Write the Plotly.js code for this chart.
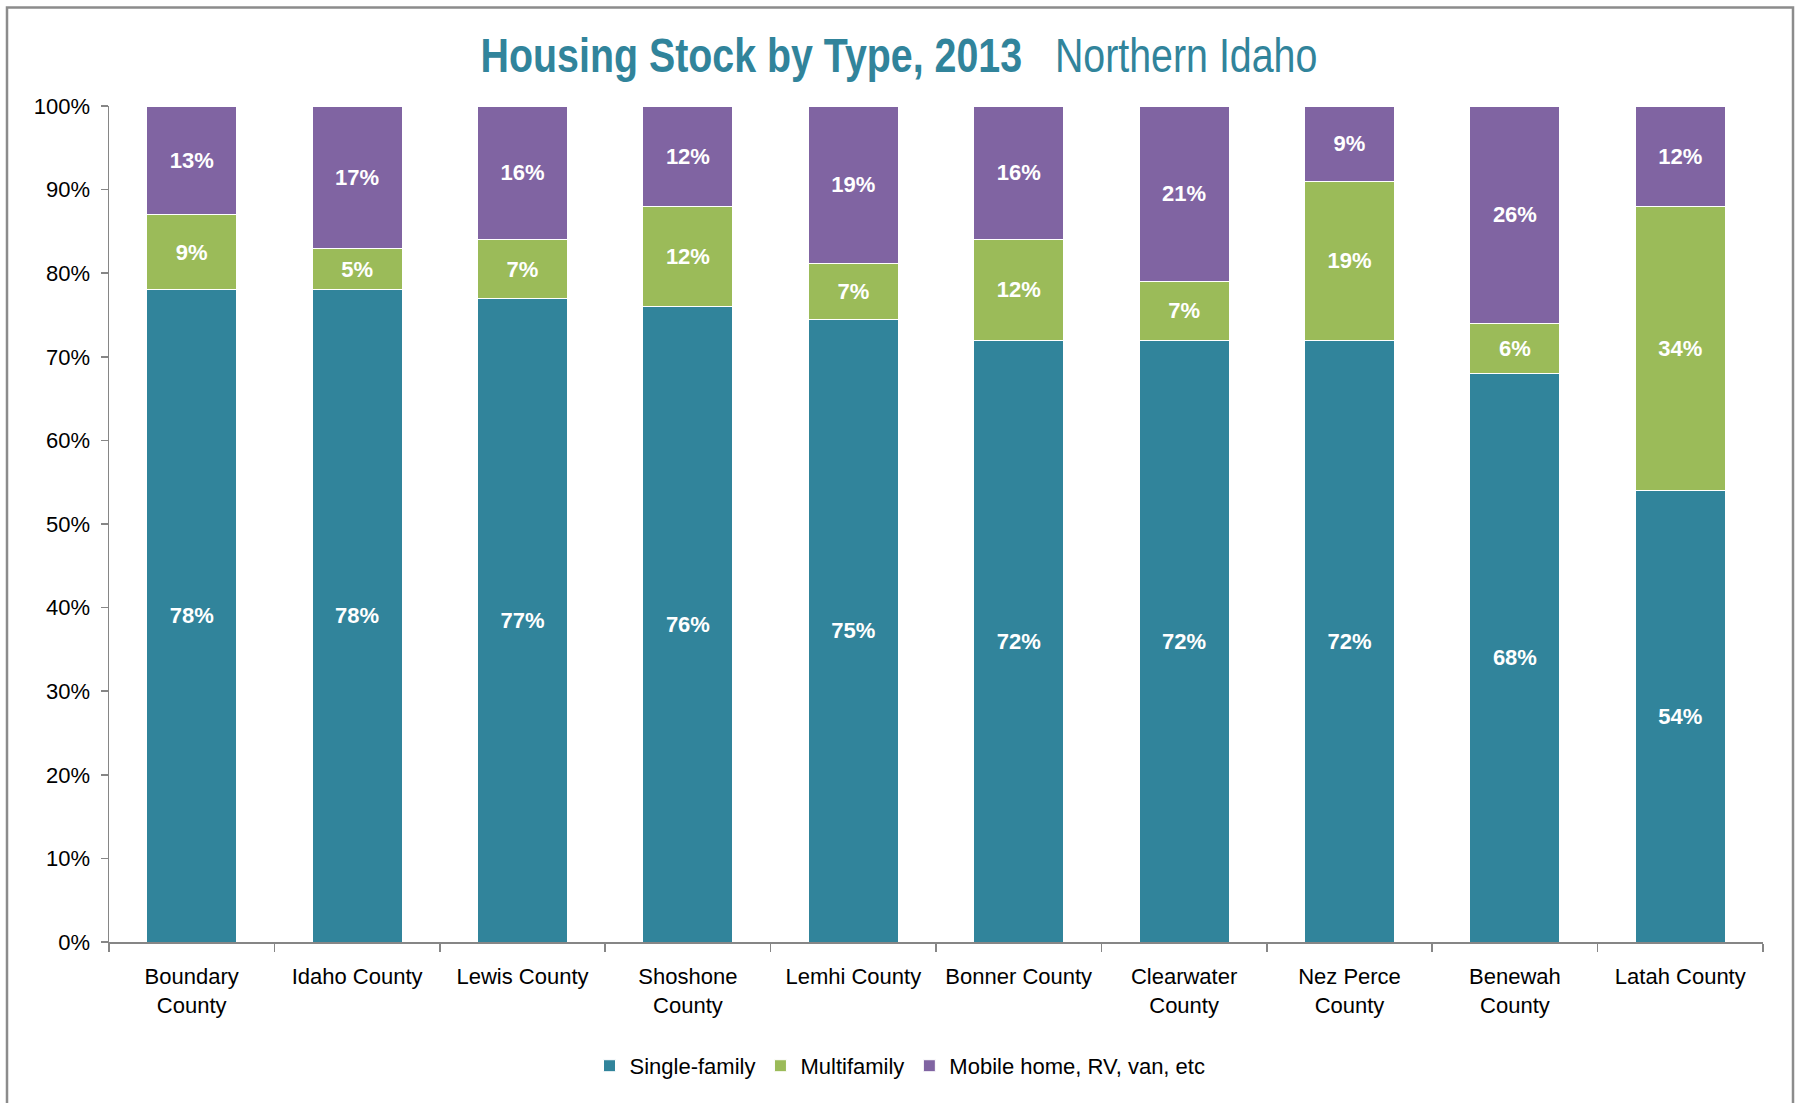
<!DOCTYPE html>
<html>
<head>
<meta charset="utf-8">
<script src="https://cdn.plot.ly/plotly-3.0.1.min.js"></script>
<style>
  html, body { margin: 0; padding: 0; background: #fff; }
  #chart { width: 1798px; height: 1103px; }
</style>
</head>
<body>
<div id="chart"></div>
<script>
// ---- Data ----
const categories = [
  "Boundary<br>County", "Idaho County", "Lewis County", "Shoshone<br>County",
  "Lemhi County", "Bonner County", "Clearwater<br>County", "Nez Perce<br>County",
  "Benewah<br>County", "Latah County"
];
const singleFamily = [78, 78, 77, 76, 74.5, 72, 72, 72, 68, 54];
const multifamily  = [9, 5, 7, 12, 6.7, 12, 7, 19, 6, 34];
const mobileHome   = [13, 17, 16, 12, 18.8, 16, 21, 9, 26, 12];
const seriesNames  = ["Single-family", "Multifamily", "Mobile home, RV, van, etc"];
const yTickVals    = [0, 10, 20, 30, 40, 50, 60, 70, 80, 90, 100];
const yTickText    = yTickVals.map(v => v + "%");

// ---- Styling ----
const colors = ["#31849B", "#9BBB59", "#8064A2"];
const baseFont = "'Liberation Sans', Arial, sans-serif";
const narrowFont = "'Liberation Sans Narrow', 'Arial Narrow', 'Liberation Sans', Arial, sans-serif";

function barTrace(values, name, color) {
  return {
    type: "bar",
    x: categories,
    y: values,
    name: name,
    marker: { color: color, line: { color: "#ffffff", width: 1 } },
    texttemplate: "%{y:.0f}%",
    textposition: "inside",
    insidetextanchor: "middle",
    textangle: 0,
    constraintext: "none",
    textfont: { family: baseFont, size: 22, color: "#ffffff", weight: "bold" },
    hoverinfo: "skip"
  };
}

const data = [
  barTrace(singleFamily, seriesNames[0], colors[0]),
  barTrace(multifamily, seriesNames[1], colors[1]),
  barTrace(mobileHome, seriesNames[2], colors[2])
];

const L = 109, R = 35, T = 105.5, B = 161;
const W = 1798, H = 1103;
const pw = W - L - R, ph = H - T - B;
function px(x) { return (x - L) / pw; }
function py(y) { return (H - B - y) / ph; }

const layout = {
  width: W,
  height: H,
  margin: { l: L, r: R, t: T, b: B, pad: 0 },
  paper_bgcolor: "#ffffff",
  plot_bgcolor: "#ffffff",
  barmode: "stack",
  bargap: 0.455,
  showlegend: true,
  title: {
    text: "<b>Housing Stock by Type, 2013</b>\u00a0\u00a0\u00a0Northern Idaho",
    font: { family: narrowFont, size: 48, color: "#31849B" },
    x: 0.5,
    xanchor: "center",
    xref: "container",
    y: 1 - 55 / H,
    yanchor: "middle",
    yref: "container"
  },
  font: { family: baseFont, size: 22, color: "#000000" },
  xaxis: {
    type: "category",
    showgrid: false,
    showline: true,
    linecolor: "#868686",
    linewidth: 1.5,
    ticks: "outside",
    tickson: "boundaries",
    ticklen: 8,
    tickcolor: "#868686",
    tickwidth: 1.5,
    ticklabelstandoff: 14,
    tickfont: { family: baseFont, size: 22, color: "#000000" },
    fixedrange: true
  },
  yaxis: {
    range: [0, 100],
    tickmode: "array",
    tickvals: yTickVals,
    ticktext: yTickText,
    showgrid: false,
    zeroline: false,
    showline: true,
    linecolor: "#868686",
    linewidth: 1.5,
    ticks: "outside",
    ticklen: 7,
    tickcolor: "#868686",
    tickwidth: 1.5,
    ticklabelstandoff: 6,
    tickfont: { family: baseFont, size: 22, color: "#000000" },
    fixedrange: true
  },
  legend: {
    orientation: "h",
    x: px(900),
    xanchor: "center",
    y: py(1066),
    yanchor: "middle",
    font: { family: baseFont, size: 22, color: "#000000" },
    bgcolor: "rgba(0,0,0,0)",
    traceorder: "normal"
  },
  shapes: [{
    type: "rect",
    xref: "paper", yref: "paper",
    x0: px(7), x1: px(1793),
    y0: py(1120), y1: py(7),
    line: { color: "#8c8c8c", width: 2.5 },
    fillcolor: "rgba(0,0,0,0)",
    layer: "below"
  }]
};

Plotly.newPlot("chart", data, layout, { staticPlot: true, displayModeBar: false }).then(function (gd) {
  // Condense the title horizontally (the original uses a narrow typeface)
  const t = gd.querySelector(".gtitle");
  if (t) {
    const bb = t.getBBox();
    const cx = bb.x + bb.width / 2;
    t.setAttribute("transform", "translate(" + cx + ",0) scale(0.82,1) translate(" + (-cx) + ",0)");
  }
});
</script>
</body>
</html>
